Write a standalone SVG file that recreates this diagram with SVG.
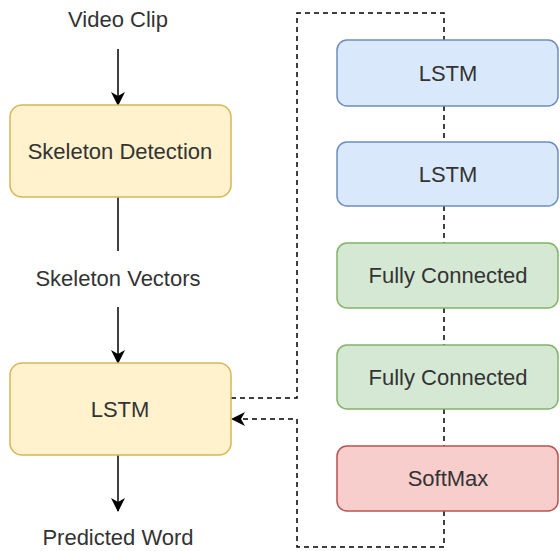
<svg xmlns="http://www.w3.org/2000/svg" width="560" height="551" viewBox="0 0 560 551">
  <style>
    text { font-family: "Liberation Sans", Arial, Helvetica, sans-serif; font-size: 22px; fill: #333333; text-anchor: middle; }
    .box { stroke-width: 1.5; }
    .yellow { fill: #fff2cc; stroke: #d6b656; }
    .blue { fill: #dae8fc; stroke: #6c8ebf; }
    .green { fill: #d5e8d4; stroke: #82b366; }
    .red { fill: #f8cecc; stroke: #b85450; }
    .solid { fill: none; stroke: #000000; stroke-width: 1.5; }
    .dash { fill: none; stroke: #000000; stroke-width: 1.5; stroke-dasharray: 5 4; }
  </style>
  <defs>
    <marker id="arrow" viewBox="0 0 14 14" refX="13" refY="7" markerWidth="14" markerHeight="14" markerUnits="userSpaceOnUse" orient="auto">
      <path d="M0,0 L14,7 L0,14 L4,7 Z" fill="#000000"/>
    </marker>
  </defs>

  <!-- free labels -->
  <text x="118" y="27">Video Clip</text>
  <text x="118" y="286">Skeleton Vectors</text>
  <text x="118" y="545">Predicted Word</text>

  <g id="connectors">
    <line class="solid" x1="118" y1="49" x2="118" y2="105" marker-end="url(#arrow)"/>
    <line class="solid" x1="118" y1="197" x2="118" y2="251"/>
    <line class="solid" x1="118" y1="307" x2="118" y2="363" marker-end="url(#arrow)"/>
    <line class="solid" x1="118" y1="455" x2="118" y2="511" marker-end="url(#arrow)"/>
    <!-- loop out of the left LSTM into the right stack -->
    <path class="dash" d="M231,398 H297 V13 H444 V40"/>
    <line class="dash" x1="444" y1="106" x2="444" y2="142"/>
    <line class="dash" x1="444" y1="206" x2="444" y2="243"/>
    <line class="dash" x1="444" y1="308" x2="444" y2="345"/>
    <line class="dash" x1="444" y1="409" x2="444" y2="446"/>
    <!-- return from SoftMax back into the left LSTM -->
    <path class="dash" d="M444,511 V547 H297 V419 H232" marker-end="url(#arrow)"/>
  </g>

  <g id="skeleton-detection">
    <rect class="box yellow" x="10" y="105" width="221" height="92" rx="12"/>
    <text x="120" y="159">Skeleton Detection</text>
  </g>
  <g id="lstm-main">
    <rect class="box yellow" x="10" y="363" width="221" height="92" rx="12"/>
    <text x="120" y="417">LSTM</text>
  </g>

  <g id="lstm-1">
    <rect class="box blue" x="337" y="40" width="221" height="66" rx="10"/>
    <text x="448" y="81">LSTM</text>
  </g>
  <g id="lstm-2">
    <rect class="box blue" x="337" y="142" width="221" height="64" rx="10"/>
    <text x="448" y="182">LSTM</text>
  </g>
  <g id="fc-1">
    <rect class="box green" x="337" y="243" width="221" height="65" rx="10"/>
    <text x="448" y="283">Fully Connected</text>
  </g>
  <g id="fc-2">
    <rect class="box green" x="337" y="345" width="221" height="64" rx="10"/>
    <text x="448" y="385">Fully Connected</text>
  </g>
  <g id="softmax">
    <rect class="box red" x="337" y="446" width="221" height="65" rx="10"/>
    <text x="448" y="486">SoftMax</text>
  </g>
</svg>
